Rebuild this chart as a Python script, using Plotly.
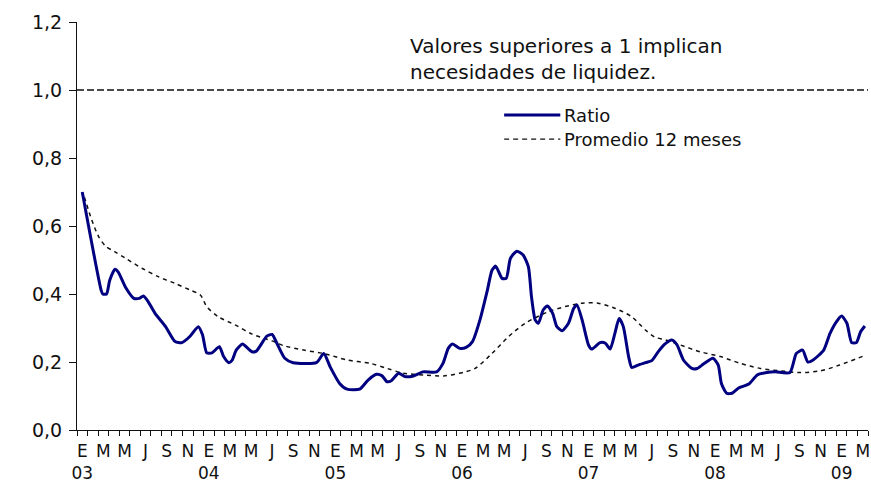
import plotly.graph_objects as go

# Months since January 2003 (0 = Ene 03) and values
ratio_month = [0.0, 1.8, 1.95, 2.3, 2.6, 3.1, 3.4, 4.1, 4.9, 5.4, 5.8, 6.2, 6.9, 7.9, 8.8, 9.45,
               10.2, 11.0, 11.4, 11.8, 12.3, 13.0, 13.4, 13.9, 14.2, 14.6, 15.2, 15.7, 16.1, 16.5,
               17.5, 18.0, 18.45, 19.2, 20.0, 22.2, 22.9, 23.5, 24.4, 25.1, 26.3, 27.1, 27.9, 28.4,
               28.9, 29.3, 30.0, 30.6, 31.4, 32.3, 33.6, 34.2, 34.7, 35.1, 35.8, 36.4, 37.0, 37.7,
               38.4, 38.85, 39.2, 39.8, 40.2, 40.6, 41.2, 41.8, 42.3, 42.6, 42.95, 43.25, 43.7, 44.1,
               44.6, 45.0, 45.5, 46.1, 46.6, 46.9, 47.4, 48.0, 48.3, 49.1, 49.6, 50.05, 50.5, 50.9,
               51.3, 51.8, 52.1, 52.7, 53.4, 54.0, 54.6, 55.2, 55.9, 56.4, 57.0, 57.8, 58.3, 58.9,
               59.8, 60.3, 60.6, 61.1, 61.6, 62.2, 63.2, 64.0, 64.9, 65.7, 67.1, 67.7, 68.3, 68.8,
               69.3, 70.3, 70.9, 71.5, 72.0, 72.5, 72.95, 73.4, 73.8, 74.2]
ratio_value = [0.700, 0.410, 0.400, 0.400, 0.440, 0.473, 0.465, 0.420, 0.387, 0.387, 0.394, 0.380,
               0.343, 0.304, 0.260, 0.257, 0.275, 0.304, 0.280, 0.227, 0.227, 0.245, 0.216, 0.198,
               0.205, 0.235, 0.253, 0.240, 0.230, 0.232, 0.276, 0.281, 0.255, 0.211, 0.198, 0.198,
               0.225, 0.186, 0.137, 0.120, 0.120, 0.147, 0.164, 0.160, 0.142, 0.145, 0.167, 0.157,
               0.159, 0.171, 0.171, 0.196, 0.240, 0.253, 0.240, 0.243, 0.260, 0.323, 0.410, 0.470,
               0.482, 0.446, 0.446, 0.505, 0.526, 0.515, 0.480, 0.390, 0.323, 0.314, 0.353, 0.365,
               0.343, 0.304, 0.292, 0.314, 0.358, 0.368, 0.323, 0.250, 0.238, 0.257, 0.255, 0.238,
               0.284, 0.328, 0.304, 0.216, 0.184, 0.191, 0.198, 0.204, 0.230, 0.252, 0.265, 0.250,
               0.206, 0.181, 0.181, 0.194, 0.211, 0.191, 0.137, 0.108, 0.108, 0.123, 0.135, 0.162,
               0.169, 0.171, 0.169, 0.225, 0.235, 0.200, 0.206, 0.235, 0.284, 0.318, 0.335, 0.314,
               0.257, 0.257, 0.289, 0.306]

avg_month = [0.2, 0.9, 1.55, 2.2, 3.1, 4.1, 5.7, 7.2, 8.8, 10.2, 11.2, 11.8, 12.9, 14.5, 16.1,
             18.0, 19.1, 21.0, 22.9, 25.1, 27.3, 28.9, 30.45, 32.35, 34.25, 36.3, 37.25, 38.85,
             40.4, 42.0, 44.2, 45.8, 47.4, 48.9, 50.5, 52.1, 53.4, 54.3, 55.3, 56.7, 58.6, 60.5,
             62.4, 64.3, 66.2, 68.1, 70.0, 71.8, 74.1]
avg_value = [0.685, 0.618, 0.569, 0.541, 0.524, 0.505, 0.475, 0.451, 0.431, 0.412, 0.397, 0.363,
             0.333, 0.309, 0.282, 0.262, 0.248, 0.235, 0.225, 0.206, 0.196, 0.181, 0.167, 0.162,
             0.159, 0.171, 0.181, 0.225, 0.274, 0.314, 0.348, 0.363, 0.373, 0.373, 0.358, 0.333,
             0.294, 0.273, 0.265, 0.250, 0.230, 0.216, 0.196, 0.181, 0.174, 0.169, 0.174, 0.191,
             0.218]

threshold = 1.0
month_letters = ["E", "M", "M", "J", "S", "N"]
years = ["03", "04", "05", "06", "07", "08", "09"]
n_months = 75

label_vals = list(range(0, n_months, 2))
label_text = []
for m in label_vals:
    letter = month_letters[(m % 12) // 2]
    if m % 12 == 0:
        label_text.append(letter + "<br>" + years[m // 12])
    else:
        label_text.append(letter)

FONT = "DejaVu Sans"

fig = go.Figure()
fig.add_trace(go.Scatter(x=avg_month, y=avg_value, mode="lines", name="Promedio 12 meses",
                         line=dict(color="#111111", width=1.5, dash="4px,4px", shape="spline",
                                   smoothing=0.8),
                         showlegend=False))
fig.add_trace(go.Scatter(x=ratio_month, y=ratio_value, mode="lines", name="Ratio",
                         line=dict(color="#000080", width=3, shape="spline", smoothing=0.6),
                         showlegend=False))
# invisible trace to activate label axis
fig.add_trace(go.Scatter(x=[label_vals[0]], y=[0], xaxis="x2", mode="markers",
                         marker=dict(opacity=0), showlegend=False, hoverinfo="skip"))

fig.add_shape(type="line", xref="paper", yref="y", x0=0, x1=1, y0=threshold, y1=threshold,
              line=dict(color="#111111", width=1.3, dash="7px,3px"))

# legend drawn manually
fig.add_shape(type="line", xref="paper", yref="paper", x0=0.540, x1=0.611, y0=0.772, y1=0.772,
              line=dict(color="#000080", width=3))
fig.add_shape(type="line", xref="paper", yref="paper", x0=0.540, x1=0.611, y0=0.713, y1=0.713,
              line=dict(color="#111111", width=1.2, dash="5px,4px"))
fig.add_annotation(xref="paper", yref="paper", x=0.613, y=0.772, text="Ratio", showarrow=False,
                   xanchor="left", yanchor="middle", font=dict(family=FONT, size=18, color="#111"))
fig.add_annotation(xref="paper", yref="paper", x=0.613, y=0.713, text="Promedio 12 meses",
                   showarrow=False, xanchor="left", yanchor="middle",
                   font=dict(family=FONT, size=18, color="#111"))
fig.add_annotation(xref="paper", yref="paper", x=0.418, y=0.9105,
                   text="Valores superiores a 1 implican<br>necesidades de liquidez.",
                   showarrow=False, xanchor="left", yanchor="middle", align="left",
                   font=dict(family=FONT, size=20, color="#111"))

fig.update_layout(
    width=871, height=488,
    margin=dict(l=77, r=3, t=22, b=58),
    paper_bgcolor="white", plot_bgcolor="white",
    separators=",.",
    font=dict(family=FONT, size=17, color="#111"),
    showlegend=False,
    xaxis=dict(range=[-0.5, n_months - 0.5], tickmode="array",
               tickvals=[m - 0.5 for m in range(n_months + 1)],
               ticktext=["" for _ in range(n_months + 1)],
               ticks="outside", ticklen=5, tickcolor="#111", showline=True, linecolor="#111",
               linewidth=1, showgrid=False, zeroline=False, automargin=False),
    xaxis2=dict(range=[-0.5, n_months - 0.5], overlaying="x", side="bottom", anchor="y",
                tickmode="array", tickvals=label_vals, ticktext=label_text, ticks="",
                showline=False, showgrid=False, zeroline=False, ticklabelstandoff=9,
                ticklabeloverflow="allow", automargin=False,
                tickfont=dict(family=FONT, size=17, color="#111")),
    yaxis=dict(range=[0, 1.2], tickmode="array", tickvals=[0, 0.2, 0.4, 0.6, 0.8, 1.0, 1.2],
               tickformat=".1f", ticks="outside", ticklen=7, tickcolor="#111", showline=True,
               linecolor="#111", linewidth=1, showgrid=False, zeroline=False, automargin=False,
               ticklabelstandoff=3,
               tickfont=dict(family=FONT, size=19, color="#111")),
)

fig.write_html("out.html", config={"displayModeBar": False},
               post_script="document.body.style.margin='0';")
